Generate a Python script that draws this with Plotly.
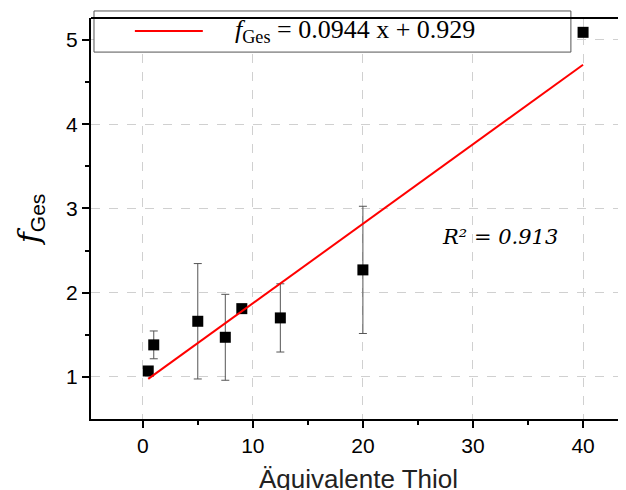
import plotly.graph_objects as go

# measured equivalents of thiol and the total functionality f_Ges
thiol_eq = [0.5, 1, 5, 7.5, 9, 12.5, 20, 40]
f_ges = [1.07, 1.38, 1.66, 1.47, 1.81, 1.70, 2.27, 5.09]
f_err = [0, 0.165, 0.685, 0.51, 0, 0.405, 0.755, 0]

# linear fit drawn between first and last x value
fit_x = [0.5, 40]
fit_y = [0.976, 4.705]
fit_label = "<i>f</i><sub>Ges</sub> = 0.0944 x + 0.929"
r2_label = "<i>R² = 0.913</i>"
x_title = "Äquivalente Thiol"

fig = go.Figure()

fig.add_trace(go.Scatter(
    x=thiol_eq, y=f_ges,
    mode="markers",
    marker=dict(symbol="square", size=11, color="black"),
    error_y=dict(type="data", array=f_err, color="#555555", thickness=1, width=4),
    showlegend=False,
))

fig.add_trace(go.Scatter(
    x=fit_x, y=fit_y,
    mode="lines",
    line=dict(color="red", width=2),
    name=fit_label,
    showlegend=False,
))

# R^2 note inside the plot
fig.add_annotation(
    x=27.0, y=2.66, xref="x", yref="y",
    text=r2_label, showarrow=False, xanchor="left",
    font=dict(family="DejaVu Serif", size=21, color="black"),
)

# legend box drawn by hand, so it can be as wide as in the original
fig.add_shape(type="rect", xref="paper", yref="paper",
              x0=0.0056, x1=0.897, y0=0.915, y1=1.0175,
              line=dict(color="#555555", width=1), fillcolor="white", layer="above")
fig.add_shape(type="line", xref="paper", yref="paper",
              x0=0.082, x1=0.209, y0=0.9676, y1=0.9676,
              line=dict(color="red", width=2), layer="above")
fig.add_annotation(
    x=0.2654, y=0.9676, xref="paper", yref="paper",
    text=fit_label, showarrow=False, xanchor="left", yanchor="middle",
    font=dict(family="Liberation Serif", size=26, color="black"),
)

# x title placed a bit lower than plotly would put it (it is cut by the bottom edge)
fig.add_annotation(
    x=0.5, y=-0.150, xref="paper", yref="paper",
    text=x_title, showarrow=False, xanchor="center", yanchor="middle",
    font=dict(family="Arial", size=26, color="#222222"),
)

# top frame line (right side of the frame is outside the picture)
fig.add_shape(type="line", xref="paper", yref="paper",
              x0=0, x1=1, y0=1, y1=1, line=dict(color="black", width=2))

axis_font = dict(family="Arial", size=21, color="black")

fig.update_xaxes(
    range=[-4.7, 43.9],
    tickvals=[0, 10, 20, 30, 40],
    ticks="outside", ticklen=7, tickwidth=1.5, tickcolor="black",
    minor=dict(tickvals=[5, 15, 25, 35], ticks="outside", ticklen=4,
               tickcolor="black", showgrid=False),
    showline=True, linecolor="black", linewidth=2,
    showgrid=True, gridcolor="#d0d0d0", griddash="dash", gridwidth=1,
    zeroline=False, automargin=False,
    tickfont=axis_font,
)

fig.update_yaxes(
    range=[0.5, 5.26],
    tickvals=[1, 2, 3, 4, 5],
    ticks="outside", ticklen=7, tickwidth=1.5, tickcolor="black",
    minor=dict(tickvals=[1.5, 2.5, 3.5, 4.5], ticks="outside", ticklen=4,
               tickcolor="black", showgrid=False),
    showline=True, linecolor="black", linewidth=2,
    showgrid=True, gridcolor="#d0d0d0", griddash="dash", gridwidth=1,
    zeroline=False, automargin=False,
    tickfont=axis_font,
    title=dict(text="<i>f</i><sub><span style='font-family:Arial'>Ges</span></sub>",
               font=dict(family="DejaVu Serif", size=30, color="black"),
               standoff=18),
)

# the page body has an 8 px margin, so the figure is 8 px smaller than the window
fig.update_layout(
    width=618, height=482,
    margin=dict(l=83, r=0, t=10, b=71),
    plot_bgcolor="white", paper_bgcolor="white",
    showlegend=False,
)

fig.write_html("out.html")
